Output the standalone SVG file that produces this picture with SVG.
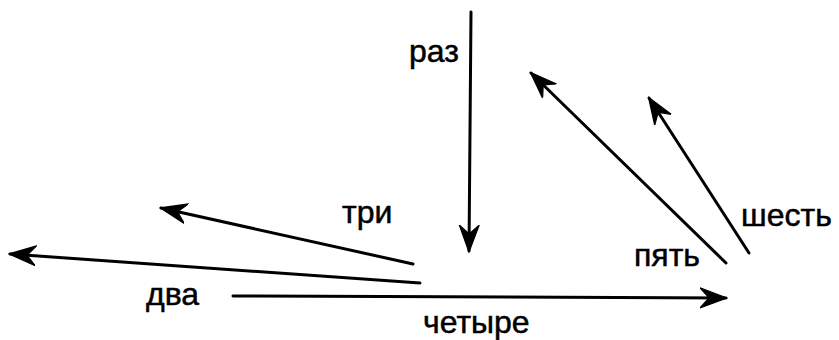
<svg xmlns="http://www.w3.org/2000/svg" width="839" height="340" viewBox="0 0 839 340">
<style>
.lbl{font-family:"Liberation Sans",Arial,sans-serif;font-size:32px;fill:#000;stroke:#000;stroke-width:0.5}
.edge{stroke:#000;stroke-width:3;fill:none;stroke-linecap:round}
</style>
<defs>
<marker id="ah" viewBox="0 0 28 22" refX="26" refY="11" markerWidth="28" markerHeight="22" markerUnits="userSpaceOnUse" orient="auto">
<path d="M0,1 L27,11 L0,21 L9,11 Z" fill="#000" stroke="#000" stroke-width="1.2" stroke-linejoin="round"/>
</marker>
</defs>
<rect width="839" height="340" fill="#fff"/>
<g id="edges">
<line class="edge" x1="471" y1="12" x2="469" y2="251" marker-end="url(#ah)"/>
<line class="edge" x1="413" y1="264" x2="161" y2="208" marker-end="url(#ah)"/>
<line class="edge" x1="420" y1="283" x2="10" y2="254" marker-end="url(#ah)"/>
<line class="edge" x1="233" y1="296" x2="726" y2="298" marker-end="url(#ah)"/>
<line class="edge" x1="726" y1="263" x2="531" y2="73" marker-end="url(#ah)"/>
<line class="edge" x1="749" y1="253" x2="649" y2="98" marker-end="url(#ah)"/>
</g>
<g id="n-raz"><text class="lbl" x="409" y="62">раз</text></g>
<g id="n-tri"><text class="lbl" x="342" y="223">три</text></g>
<g id="n-dva"><text class="lbl" x="146" y="305">два</text></g>
<g id="n-chetyre"><text class="lbl" x="423" y="333">четыре</text></g>
<g id="n-pyat"><text class="lbl" x="634" y="266">пять</text></g>
<g id="n-shest"><text class="lbl" x="741" y="226">шесть</text></g>
</svg>
